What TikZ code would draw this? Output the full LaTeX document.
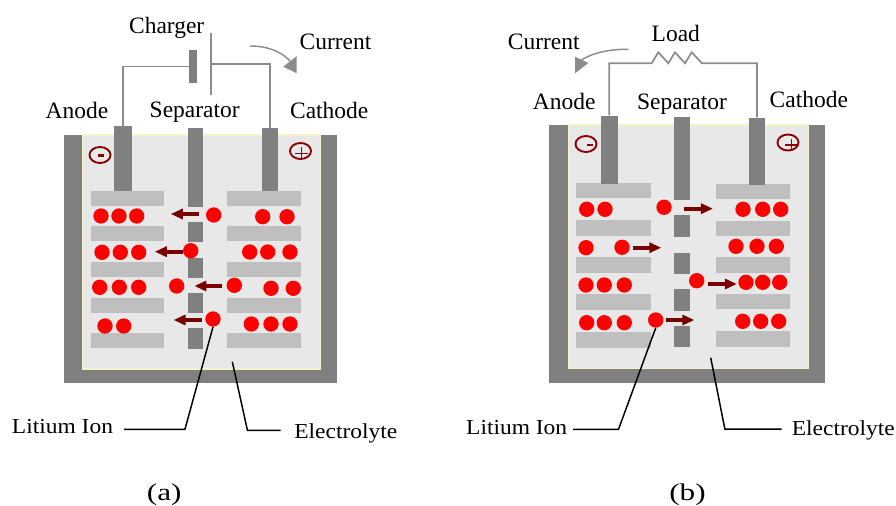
\documentclass[tikz,border=0pt]{standalone}
\usepackage{fontspec}
\setmainfont{Liberation Serif}
\newfontfamily\widefont[FakeStretch=1.1]{Liberation Serif}
\newfontfamily\capfont[FakeStretch=1.3]{Liberation Serif}
\usetikzlibrary{arrows.meta,calc}
\definecolor{casegray}{HTML}{808080}
\definecolor{fluid}{HTML}{E8E8E8}
\definecolor{rim}{HTML}{F4F4C8}
\definecolor{platefill}{HTML}{BFBFBF}
\definecolor{wiregray}{HTML}{8C8C8C}
\definecolor{arrowred}{HTML}{7A0000}
\definecolor{polred}{HTML}{8B0000}
\begin{document}
\begin{tikzpicture}[x=0.75pt,y=-0.75pt,
  rod/.style={fill=casegray,inner sep=0pt,anchor=north},
  plate/.style={fill=platefill},
  ion/.style={circle,fill=red,inner sep=0pt,minimum size=11.5pt},
  ionarrow/.style={arrowred,line width=2.8pt,-{Triangle[length=9pt,width=7.5pt]}},
  wire/.style={wiregray,line width=1.3pt},
  pol/.style={polred,line width=1.4pt},
  leader/.style={line width=1.1pt},
  lbl/.style={font=\fontsize{17.6}{20}\selectfont,inner sep=0pt,anchor=base},
  sub/.style={font=\widefont\fontsize{16}{18}\selectfont,inner sep=0pt,anchor=base},
  capt/.style={font=\capfont\fontsize{18}{20}\selectfont,inner sep=0pt,anchor=base}]
\useasboundingbox (0,0) rectangle (896,506);

% (a) charging
\fill[casegray] (64,135) rectangle (337,383);
\filldraw[fill=fluid,draw=rim,line width=0.8pt] (82.7,135) rectangle (320.7,369);
\foreach \y in {190.7,226,262,297.7,333.3}{
  \fill[plate] (90.7,\y) rectangle (164.3,\y+15);
  \fill[plate] (227,\y) rectangle (301,\y+15);}
\foreach \ya/\yb in {127.7/207.3,221.7/242,257.7/278.3,292.7/313,327.7/348.7}{\fill[casegray] (187.7,\ya) rectangle (203.3,\yb);}
\node[rod,minimum width=13.3pt,minimum height=48.8pt] (anodeA) at (122.9,126) {};
\node[rod,minimum width=12pt,minimum height=47.3pt] (cathodeA) at (269.7,128) {};
\foreach \x/\y [count=\k] in {101/216,119/216,136.7/216,262.7/216.7,287/216.7,
  102/252.3,120.3/252.3,138.7/252.3,249.7/252,267.7/252,290/252,
  99.7/287.3,119.3/287.3,138.7/287.3,176.7/286,271/288.3,293.3/288.3,
  105/326,123.7/326,251.3/324,271/324,290/324}{\node[ion] (ia\k) at (\x,\y) {};}
\foreach \x/\y/\g/\d [count=\k] in {213.7/215/7/-1,190.7/250.7/0/1,234.3/285.3/4/0.7,213/319/3.5/1}{
  \node[ion] (ma\k) at (\x,\y) {};
  \draw[ionarrow] ($(ma\k.west)+(-\g,\d)$) -- ++(-28,0);}
\draw[pol] (100,155) ellipse [x radius=7.9pt,y radius=6pt];
\draw[pol,line width=1.8pt] (98.3,155.5) -- (104,155.5);
\draw[pol] (300.5,151) ellipse [x radius=7.9pt,y radius=6pt];
\draw[pol,line width=1.1pt] (295,153.3) -- (308.3,153.3) (301.7,147.3) -- (301.7,160);
\node[fill=casegray,inner sep=0pt,minimum width=5.8pt,minimum height=24.5pt] (cellneg) at (192.9,66.4) {};
\node[fill=wiregray,inner sep=0pt,minimum width=1.3pt,minimum height=46.3pt] (cellpos) at (211.3,64.2) {};
\draw[wire] (anodeA.north) |- (cellneg.west);
\draw[wire] (cellpos.east) -| (cathodeA.north);
\draw[wire,line width=1.1pt] (250,46) .. controls (268,46) and (282,52) .. (290,61);
\fill[wiregray] (283.3,66.7) -- (296.7,56) -- (296.7,73.3) -- cycle;
\node[lbl] (chg) at (166.7,33.3) {Charger};
\node[lbl] (curA) at (335.5,50) {Current};
\node[lbl] (anA) at (77,118.3) {Anode};
\node[lbl] (sepA) at (194.7,117.3) {Separator};
\node[lbl] (catA) at (329.2,118.3) {Cathode};
\node[sub] (ionA) at (62.5,433.3) {Litium Ion};
\node[sub] (elyA) at (345.8,438.3) {Electrolyte};
\node[capt] (capA) at (164.2,500) {(a)};
\coordinate (fluidA) at (232.3,361.7);
\draw[leader] ([xshift=8pt,yshift=3pt]ionA.base east) -- ++(61,0) -- (ma4.south);
\draw[leader] ([xshift=-10pt,yshift=6pt]elyA.base west) -- ++(-33.3,0) -- (fluidA);

% (b) discharging
\fill[casegray] (549,125) rectangle (825,383);
\filldraw[fill=fluid,draw=rim,line width=0.8pt] (568.3,125) rectangle (808.3,368.3);
\foreach \ya/\yb in {183/184,220/220.7,257.3/257,294.3/293.7,332/331}{
  \fill[plate] (576.3,\ya) rectangle (650.7,\ya+15.5);
  \fill[plate] (715.7,\yb) rectangle (790,\yb+15.5);}
\foreach \ya/\yb in {117.3/200,215/236.7,252.7/274,289.3/310.7,325.7/347.3}{\fill[casegray] (674.2,\ya) rectangle (690,\yb);}
\node[rod,minimum width=12.8pt,minimum height=51.2pt] (anodeB) at (609.2,115.3) {};
\node[rod,minimum width=12.5pt,minimum height=50.4pt] (cathodeB) at (757,117.3) {};
\foreach \x/\y [count=\k] in {586.7/209.3,605/209.3,743/209.3,762.7/209.3,780.7/209.3,
  586/247.7,736/246.3,757/246.3,776.3/246.3,
  586/285,604.3/285,624.3/285,746/282.3,762.7/282.3,779.7/282.3,
  586.7/322.7,604.3/322.7,624.3/322.7,742.7/321.3,760.7/321.3,778.7/321.3}{\node[ion] (ib\k) at (\x,\y) {};}
\foreach \x/\y/\g/\d [count=\k] in {664/207.3/12.5/1.4,622/247.3/2.9/0.4,696.7/280.7/3.8/3.3,655.7/320/2.2/0}{
  \node[ion] (mb\k) at (\x,\y) {};
  \draw[ionarrow] ($(mb\k.east)+(\g,\d)$) -- ++(28.5,0);}
\draw[pol] (586,144) ellipse [x radius=7.9pt,y radius=6pt];
\draw[pol,line width=1.8pt] (587.3,145) -- (592.7,145);
\draw[pol] (788,142.5) ellipse [x radius=7.9pt,y radius=6pt];
\draw[pol,line width=1.1pt] (785,145) -- (798,145) (791.5,139) -- (791.5,151);
\coordinate (loadL) at (651.7,63.3);
\draw[wire] (anodeB.north) |- (loadL) -- ++(6.6,-11) -- ++(10,11) -- ++(6.7,-11) -- ++(10,11) -- ++(6.7,-11) -- ++(10.3,11) -| (cathodeB.north);
\draw[wire,line width=1.1pt] (628.3,49.3) .. controls (610,49) and (592,53) .. (581.5,60);
\fill[wiregray] (575,56.7) -- (575,73.3) -- (588.3,63) -- cycle;
\node[lbl] (curB) at (543.8,49.3) {Current};
\node[lbl] (load) at (675.8,41.7) {Load};
\node[lbl] (anB) at (564.2,109.3) {Anode};
\node[lbl] (sepB) at (682,110) {Separator};
\node[lbl] (catB) at (808.8,107.3) {Cathode};
\node[sub] (ionB) at (516.7,434) {Litium Ion};
\node[sub] (elyB) at (843.3,435.7) {Electrolyte};
\node[capt] (capB) at (687.5,500) {(b)};
\coordinate (fluidB) at (710.7,357.7);
\draw[leader] ([xshift=4.3pt,yshift=3.5pt]ionB.base east) -- ++(45.3,0) -- (mb4.south);
\draw[leader] ([xshift=-7.5pt,yshift=5pt]elyB.base west) -- ++(-56.7,0) -- (fluidB);
\end{tikzpicture}
\end{document}
